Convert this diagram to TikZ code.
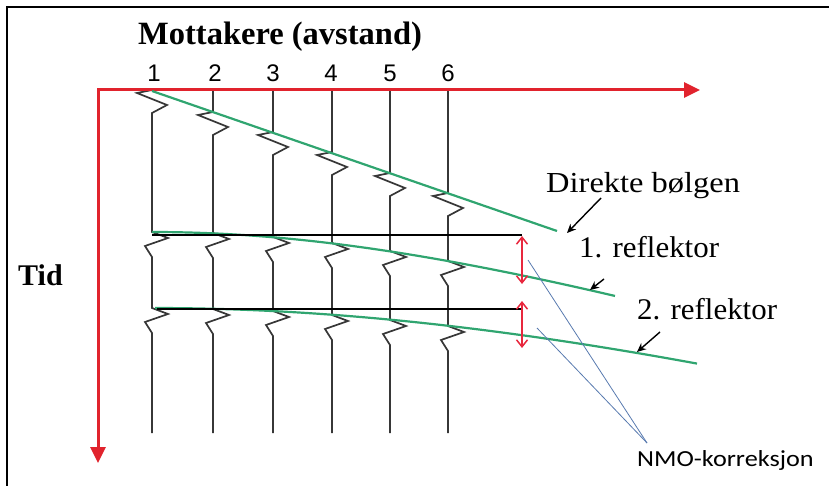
\documentclass[tikz,border=0pt]{standalone}
\usepackage{fontspec}
\usepackage{graphicx}
\setmainfont{Liberation Serif}
\newfontfamily\arialfont{Liberation Sans}
\newfontfamily\calfont{Carlito}
\usetikzlibrary{arrows.meta}
\definecolor{axred}{RGB}{225,35,45}
\definecolor{arrred}{RGB}{232,40,62}
\definecolor{wavegreen}{RGB}{48,165,112}
\definecolor{nmoblue}{RGB}{88,122,175}
\definecolor{tracegray}{RGB}{55,55,55}
\tikzset{
  axis/.style={axred, line width=3pt, line join=miter,
    {Triangle[length=16pt,width=15pt]}-{Triangle[length=16pt,width=15pt]}},
  trace/.style={tracegray, line width=1.7pt, line join=miter},
  wave/.style={wavegreen, line width=2.2pt},
  level/.style={black, line width=1.2pt},
  nmoarrow/.style={arrred, line width=1.5pt,
    {Straight Barb[length=7pt,width=11pt]}-{Straight Barb[length=7pt,width=11pt]}},
  pointer/.style={black, line width=1.4pt, -{Stealth[length=9pt,width=8pt]}},
  nmoline/.style={nmoblue, line width=0.8pt},
  serlabel/.style={inner sep=0pt, anchor=base west, font=\fontsize{30}{30}\selectfont},
  numlabel/.style={inner sep=0pt, anchor=base, font=\arialfont\fontsize{24}{24}\selectfont},
  frameline/.style={black, line width=2.5pt}
}
\begin{document}
\begin{tikzpicture}[x=1pt,y=-1pt]
\useasboundingbox (0,0) rectangle (829,486);
% frame
\draw[frameline] (7,486) -- (7,7) -- (829,7);

% title and numbers
\node[inner sep=0pt, anchor=base west, font=\bfseries\fontsize{32.5}{32.5}\selectfont] (mott) at (138,45) {Mottakere (avstand)};
\foreach \i/\x in {1/154,2/215,3/273,4/331,5/390,6/448}
  \node[numlabel] (n\i) at (\x,82) {\i};
\node[inner sep=0pt, anchor=base west, font=\bfseries\fontsize{30}{30}\selectfont] (tid) at (18,285) {Tid};

% traces
\foreach \x/\td/\ta/\tb in {152/90/232/308, 213/112/233/309, 273/132/237/311, 332/152/243/315, 390/173/251/320, 448/193/261/326}
  \draw[trace] (\x,90) -- (\x,\td) -- ++(-15,3) -- ++(30,12) -- (\x,\td+23)
     -- (\x,\ta) -- ++(16,6) -- ++(-23,8) -- (\x,\ta+25)
     -- (\x,\tb) -- ++(16,6) -- ++(-23,8) -- (\x,\tb+25) -- (\x,433);

% axes
\coordinate (O) at (98,90);
\coordinate (Xend) at (700,90);
\coordinate (Tend) at (98,463);
\draw[axis] (Xend) -- (O) -- (Tend);

% green wave lines
\coordinate (d0) at (152,91);
\coordinate (d1) at (557,231);
\draw[wave] (d0) -- (d1);
\draw[wave] plot[domain=152:615, samples=50] (\x, {90+10*sqrt(201.64+0.1038*((\x-152)/10)^2)});
\draw[wave] plot[domain=155:697, samples=50] (\x, {90+10*sqrt(475.24+0.092*((\x-152)/10)^2)});

% horizontal reference lines
\coordinate (h1a) at (152,235);
\coordinate (h1b) at (522,235);
\coordinate (h2a) at (157,309);
\coordinate (h2b) at (522,309);
\draw[level] (h1a) -- (h1b);
\draw[level] (h2a) -- (h2b);

% red double arrows
\coordinate (a1t) at (522,236);
\coordinate (a1b) at (522,284);
\coordinate (a2t) at (522,301);
\coordinate (a2b) at (522,348);
\draw[nmoarrow] (a1t) -- (a1b);
\draw[nmoarrow] (a2t) -- (a2b);

% labels
\node[inner sep=0pt, anchor=base west, font=\fontsize{29}{29}\selectfont] (direkte) at (546,193) {\scalebox{1.12}[1]{Direkte bølgen}};
\node[serlabel] (refl1) at (579,257) {\scalebox{1.03}[1]{1. reflektor}};
\node[serlabel] (refl2) at (637,319) {\scalebox{1.03}[1]{2. reflektor}};
\node[inner sep=0pt, anchor=base west, font=\calfont\fontsize{23}{23}\selectfont] (nmo) at (637,466) {\scalebox{1.14}[1]{NMO-korreksjon}};

% pointers
\coordinate (p1s) at (601,198);
\coordinate (p1e) at (567,233);
\coordinate (p2s) at (604,279);
\coordinate (p2e) at (590,290);
\coordinate (p3s) at (660,332);
\coordinate (p3e) at (637,352);
\draw[pointer] (p1s) -- (p1e);
\draw[pointer] (p2s) -- (p2e);
\draw[pointer] (p3s) -- (p3e);

% NMO lines
\coordinate (b1) at (528,260);
\coordinate (b2) at (537,328);
\coordinate (btip) at (647,443);
\draw[nmoline] (b1) -- (btip);
\draw[nmoline] (b2) -- (btip);
\end{tikzpicture}
\end{document}
